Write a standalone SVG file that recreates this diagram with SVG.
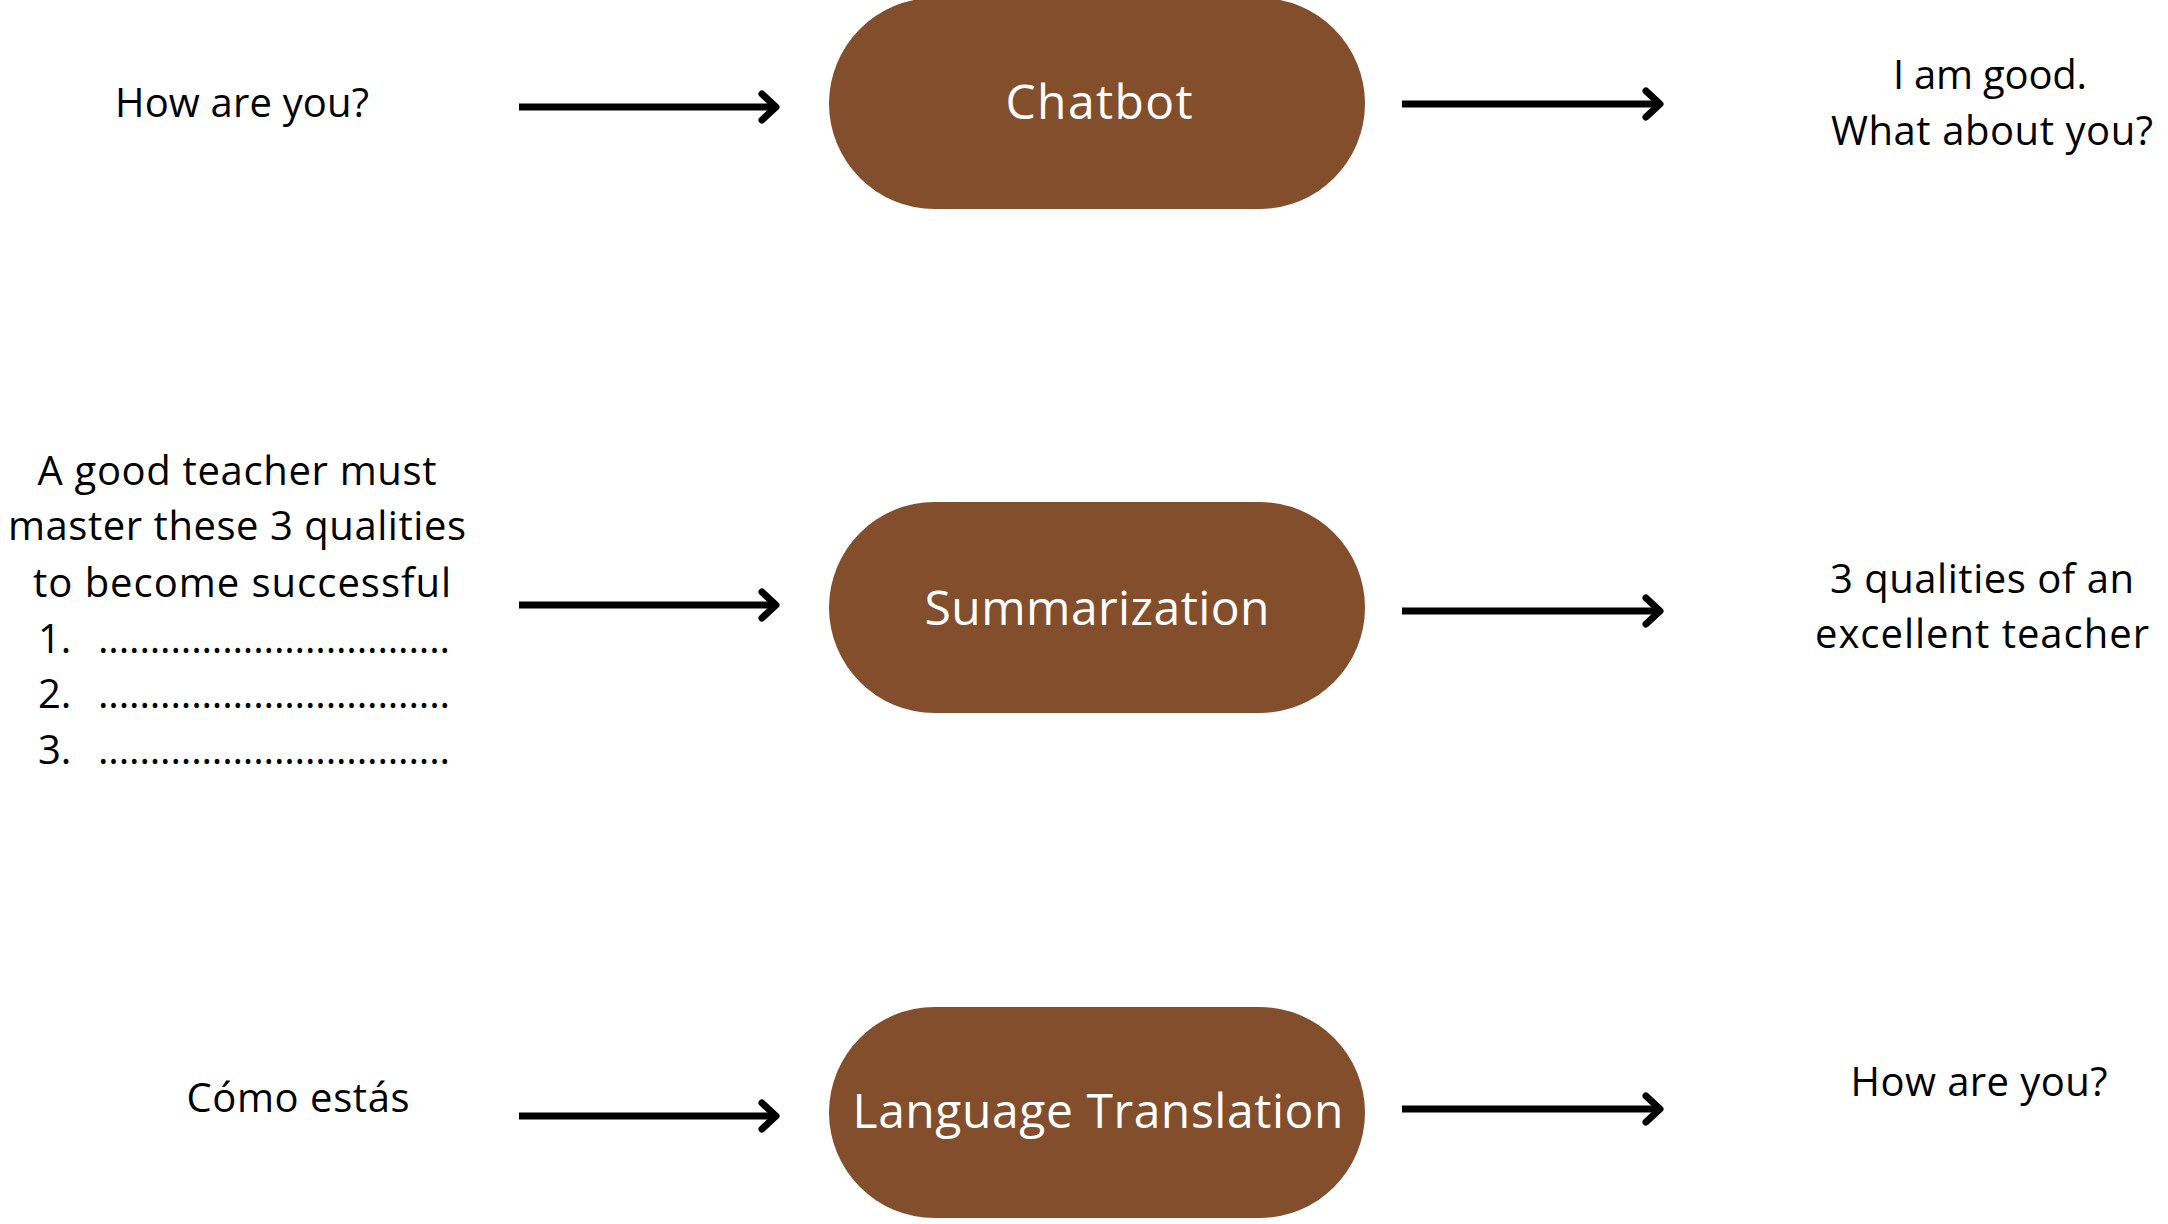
<svg xmlns="http://www.w3.org/2000/svg" width="2168" height="1224" viewBox="0 0 2168 1224">
<style>
  .bg { fill: #ffffff; }
  .pill { fill: #834E2C; }
  .ptxt { font-family: "Open Sans", "Noto Sans", sans-serif; font-size: 48px; fill: #ffffff; text-anchor: middle; }
  .txt { font-family: "Open Sans", "Noto Sans", sans-serif; font-size: 40px; fill: #000000; text-anchor: middle; }
  .ltxt { font-family: "Open Sans", "Noto Sans", sans-serif; font-size: 40px; fill: #000000; }
  .arrow { stroke: #000000; stroke-width: 7; fill: none; marker-end: url(#chev); }
</style>
<defs>
  <marker id="chev" markerUnits="userSpaceOnUse" viewBox="0 0 24 32" markerWidth="24" markerHeight="32" refX="19" refY="16" orient="auto" overflow="visible">
    <path d="M5,3 L19,16 L5,29" fill="none" stroke="#000000" stroke-width="7" stroke-linecap="round" stroke-linejoin="round"/>
  </marker>
</defs>
<rect class="bg" x="0" y="0" width="2168" height="1224"/>

<g id="connectors">
  <line class="arrow" x1="519" y1="107" x2="776" y2="107"/>
  <line class="arrow" x1="1402" y1="104" x2="1660" y2="104"/>
  <line class="arrow" x1="519" y1="605" x2="776" y2="605"/>
  <line class="arrow" x1="1402" y1="611" x2="1660" y2="611"/>
  <line class="arrow" x1="519" y1="1116" x2="776" y2="1116"/>
  <line class="arrow" x1="1402" y1="1109" x2="1660" y2="1109"/>
</g>

<g id="input-chatbot">
  <text class="txt" x="242" y="117" textLength="254">How are you?</text>
</g>
<g id="chatbot">
  <rect class="pill" x="829" y="-2" width="536" height="211" rx="105.5" ry="105.5"/>
  <text class="ptxt" x="1099" y="119" textLength="187">Chatbot</text>
</g>
<g id="output-chatbot">
  <text class="txt" x="1990" y="89" textLength="194">I am good.</text>
  <text class="txt" x="1992" y="145" textLength="322">What about you?</text>
</g>

<g id="input-summarization">
  <text class="txt" x="237" y="485" textLength="399">A good teacher must</text>
  <text class="txt" x="237" y="540" textLength="458">master these 3 qualities</text>
  <text class="txt" x="242" y="597" textLength="418">to become successful</text>
  <text class="ltxt" x="38" y="653">1.</text>
  <text class="ltxt" x="98" y="653" textLength="352">..................................</text>
  <text class="ltxt" x="38" y="708">2.</text>
  <text class="ltxt" x="98" y="708" textLength="352">..................................</text>
  <text class="ltxt" x="38" y="764">3.</text>
  <text class="ltxt" x="98" y="764" textLength="352">..................................</text>
</g>
<g id="summarization">
  <rect class="pill" x="829" y="502" width="536" height="211" rx="105.5" ry="105.5"/>
  <text class="ptxt" x="1097" y="625" textLength="345">Summarization</text>
</g>
<g id="output-summarization">
  <text class="txt" x="1982" y="593" textLength="304">3 qualities of an</text>
  <text class="txt" x="1982" y="648" textLength="334">excellent teacher</text>
</g>

<g id="input-translation">
  <text class="txt" x="298" y="1112" textLength="223">Cómo estás</text>
</g>
<g id="translation">
  <rect class="pill" x="829" y="1007" width="536" height="211" rx="105.5" ry="105.5"/>
  <text class="ptxt" x="1098" y="1128" textLength="491">Language Translation</text>
</g>
<g id="output-translation">
  <text class="txt" x="1979" y="1096" textLength="257">How are you?</text>
</g>
</svg>
